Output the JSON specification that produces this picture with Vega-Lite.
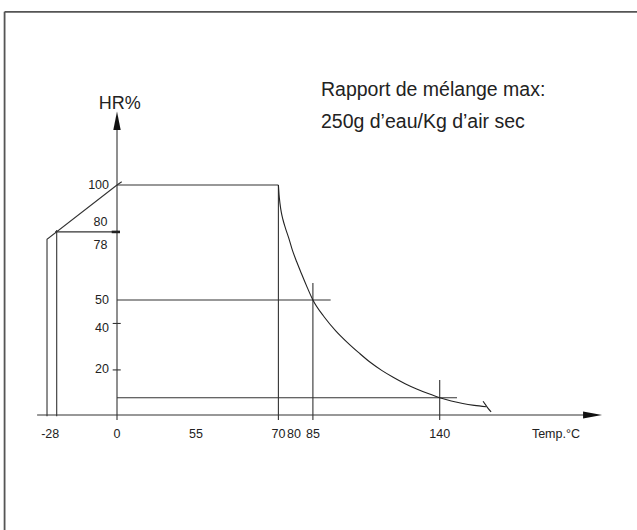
{
  "$schema": "https://vega.github.io/schema/vega-lite/v6.json",
  "width": 637,
  "height": 530,
  "autosize": {"type": "none"},
  "padding": 0,
  "background": "white",
  "config": {"view": {"stroke": null}},
  "datasets": {
    "frame": [
      {"x": -52.2, "x2": 227, "y": 175.3, "y2": 175.3},
      {"x": -52.2, "x2": -52.2, "y": 175.3, "y2": -51}
    ],
    "seg": [
      {"x": -37.1, "x2": 205.2, "y": 0, "y2": 0},
      {"x": 0, "x2": 0, "y": -2.2, "y2": 125},
      {"x": 0, "x2": 70, "y": 100, "y2": 100},
      {"x": 70, "x2": 70, "y": -2.2, "y2": 100},
      {"x": 0, "x2": 92.7, "y": 50, "y2": 50},
      {"x": 85, "x2": 85, "y": -2.2, "y2": 57.4},
      {"x": 140, "x2": 140, "y": -2.2, "y2": 15.2},
      {"x": 0, "x2": 147.5, "y": 7.5, "y2": 7.5},
      {"x": -28.8, "x2": 0, "y": 79.6, "y2": 79.6},
      {"x": -28, "x2": -28, "y": -0.5, "y2": 80.4},
      {"x": -2, "x2": 2.6, "y": 39.8, "y2": 39.8},
      {"x": -2, "x2": 2.6, "y": 19.6, "y2": 19.6}
    ],
    "thick": [
      {"x": -2.46, "x2": 2.1, "y": 79.6, "y2": 79.6}
    ],
    "left": [
      {"x": -32.5, "y": -0.5, "o": 1},
      {"x": -32.5, "y": 76.4, "o": 2},
      {"x": 0, "y": 100, "o": 3},
      {"x": 3.3, "y": 101.4, "o": 4}
    ],
    "curve": [
      {"x": 70, "y": 100},
      {"x": 70.4, "y": 96},
      {"x": 71.0, "y": 92},
      {"x": 71.9, "y": 88},
      {"x": 72.9, "y": 85},
      {"x": 74.4, "y": 81.5},
      {"x": 76.6, "y": 77},
      {"x": 78.8, "y": 72},
      {"x": 80.74, "y": 66.5},
      {"x": 81.96, "y": 61.5},
      {"x": 83.49, "y": 55.5},
      {"x": 85, "y": 50},
      {"x": 90, "y": 42.5},
      {"x": 95, "y": 36.5},
      {"x": 100, "y": 31.5},
      {"x": 105, "y": 27},
      {"x": 110, "y": 22.8},
      {"x": 115, "y": 19.3},
      {"x": 120, "y": 16.3},
      {"x": 125, "y": 13.6},
      {"x": 130, "y": 11.3},
      {"x": 135, "y": 9.3},
      {"x": 140, "y": 7.5},
      {"x": 145, "y": 6.1},
      {"x": 150, "y": 5.0},
      {"x": 155, "y": 4.2},
      {"x": 160.2, "y": 3.6}
    ],
    "brk": [
      {"x": 158.8, "y": 6.0, "o": 1},
      {"x": 160.0, "y": 4.3, "o": 2},
      {"x": 160.9, "y": 3.0, "o": 3},
      {"x": 162.3, "y": 1.4, "o": 4}
    ],
    "arrows": [
      {"x": 206.3, "y": 0, "dir": "right"},
      {"x": 0, "y": 127.9, "dir": "up"}
    ],
    "ylab": [
      {"label": "100", "y": 100, "x": 0},
      {"label": "80", "y": 80, "x": 0},
      {"label": "78", "y": 78, "x": 0},
      {"label": "50", "y": 50, "x": 0},
      {"label": "40", "y": 40, "x": 0},
      {"label": "20", "y": 20, "x": 0}
    ],
    "xlab": [
      {"label": "-28", "x": -28, "y": 0},
      {"label": "0", "x": 0, "y": 0},
      {"label": "55", "x": 55, "y": 0},
      {"label": "70", "x": 70, "y": 0},
      {"label": "80", "x": 80, "y": 0},
      {"label": "85", "x": 85, "y": 0},
      {"label": "140", "x": 140, "y": 0}
    ],
    "titles": [
      {"label": "HR%", "x": 2, "y": 135.2, "kind": "yt"},
      {"label": "Temp.°C", "x": 180, "y": 0, "kind": "xt"},
      {"label": "Rapport de mélange max:", "x": 88.5, "y": 138.8, "kind": "note"},
      {"label": "250g d’eau/Kg d’air sec", "x": 88.5, "y": 124.9, "kind": "note"}
    ]
  },
  "encoding": {
    "x": {"field": "x", "type": "quantitative", "axis": null,
          "scale": {"domain": [-28, 0, 55, 70, 80, 85, 140], "range": [56.7, 117, 196, 278.4, 294, 312.9, 439.7], "nice": false, "zero": false}},
    "y": {"field": "y", "type": "quantitative", "axis": null,
          "scale": {"domain": [0, 100], "range": [415, 185], "nice": false, "zero": false}}
  },
  "layer": [
    {
      "data": {"name": "frame"},
      "mark": {"type": "rule", "color": "#555555", "strokeWidth": 1.8},
      "encoding": {"x2": {"field": "x2"}, "y2": {"field": "y2"}}
    },
    {
      "data": {"name": "seg"},
      "mark": {"type": "rule", "color": "#333333", "strokeWidth": 1.1},
      "encoding": {"x2": {"field": "x2"}, "y2": {"field": "y2"}}
    },
    {
      "data": {"name": "thick"},
      "mark": {"type": "rule", "color": "#222222", "strokeWidth": 2.6},
      "encoding": {"x2": {"field": "x2"}, "y2": {"field": "y2"}}
    },
    {
      "data": {"name": "left"},
      "mark": {"type": "line", "color": "#333333", "strokeWidth": 1.1},
      "encoding": {"order": {"field": "o", "type": "quantitative"}}
    },
    {
      "data": {"name": "curve"},
      "mark": {"type": "line", "color": "#222222", "strokeWidth": 1.1, "interpolate": "monotone"},
      "encoding": {}
    },
    {
      "data": {"name": "brk"},
      "mark": {"type": "line", "color": "#222222", "strokeWidth": 1.1, "interpolate": "monotone"},
      "encoding": {"order": {"field": "o", "type": "quantitative"}}
    },
    {
      "data": {"name": "arrows"},
      "transform": [{"filter": "datum.dir == 'right'"}],
      "mark": {"type": "point", "shape": "M1,0L-1,0.36L-1,-0.36Z", "filled": true, "size": 361, "color": "#111111", "opacity": 1}
    },
    {
      "data": {"name": "arrows"},
      "transform": [{"filter": "datum.dir == 'up'"}],
      "mark": {"type": "point", "shape": "M0,-1L0.4,1L-0.4,1Z", "filled": true, "size": 342, "color": "#111111", "opacity": 1}
    },
    {
      "data": {"name": "ylab"},
      "transform": [{"filter": "datum.label != '80' && datum.label != '78' && datum.label != '40'"}],
      "mark": {"type": "text", "align": "right", "baseline": "middle", "dx": -8, "font": "Liberation Sans", "fontSize": 12.5, "color": "#222222"},
      "encoding": {"text": {"field": "label"}}
    },
    {
      "data": {"name": "ylab"},
      "transform": [{"filter": "datum.label == '40'"}],
      "mark": {"type": "text", "align": "right", "baseline": "middle", "dx": -8, "dy": 5, "font": "Liberation Sans", "fontSize": 12.5, "color": "#222222"},
      "encoding": {"text": {"field": "label"}}
    },
    {
      "data": {"name": "ylab"},
      "transform": [{"filter": "datum.label == '80'"}],
      "mark": {"type": "text", "align": "right", "baseline": "middle", "dx": -9.5, "dy": -9.5, "font": "Liberation Sans", "fontSize": 12.5, "color": "#222222"},
      "encoding": {"text": {"field": "label"}}
    },
    {
      "data": {"name": "ylab"},
      "transform": [{"filter": "datum.label == '78'"}],
      "mark": {"type": "text", "align": "right", "baseline": "middle", "dx": -9.5, "dy": 9, "font": "Liberation Sans", "fontSize": 12.5, "color": "#222222"},
      "encoding": {"text": {"field": "label"}}
    },
    {
      "data": {"name": "xlab"},
      "transform": [{"filter": "datum.label != '-28'"}],
      "mark": {"type": "text", "align": "center", "baseline": "middle", "dy": 19, "font": "Liberation Sans", "fontSize": 12.5, "color": "#222222"},
      "encoding": {"text": {"field": "label"}}
    },
    {
      "data": {"name": "xlab"},
      "transform": [{"filter": "datum.label == '-28'"}],
      "mark": {"type": "text", "align": "center", "baseline": "middle", "dx": -6.5, "dy": 19, "font": "Liberation Sans", "fontSize": 12.5, "color": "#222222"},
      "encoding": {"text": {"field": "label"}}
    },
    {
      "data": {"name": "titles"},
      "transform": [{"filter": "datum.kind == 'yt'"}],
      "mark": {"type": "text", "align": "center", "baseline": "middle", "font": "Liberation Sans", "fontSize": 18, "color": "#222222"},
      "encoding": {"text": {"field": "label"}}
    },
    {
      "data": {"name": "titles"},
      "transform": [{"filter": "datum.kind == 'xt'"}],
      "mark": {"type": "text", "align": "left", "baseline": "middle", "dy": 19, "font": "Liberation Sans", "fontSize": 12.5, "color": "#222222"},
      "encoding": {"text": {"field": "label"}}
    },
    {
      "data": {"name": "titles"},
      "transform": [{"filter": "datum.kind == 'note'"}],
      "mark": {"type": "text", "align": "left", "baseline": "alphabetic", "font": "Liberation Sans", "fontSize": 19.5, "color": "#222222"},
      "encoding": {"text": {"field": "label"}}
    }
  ]
}
